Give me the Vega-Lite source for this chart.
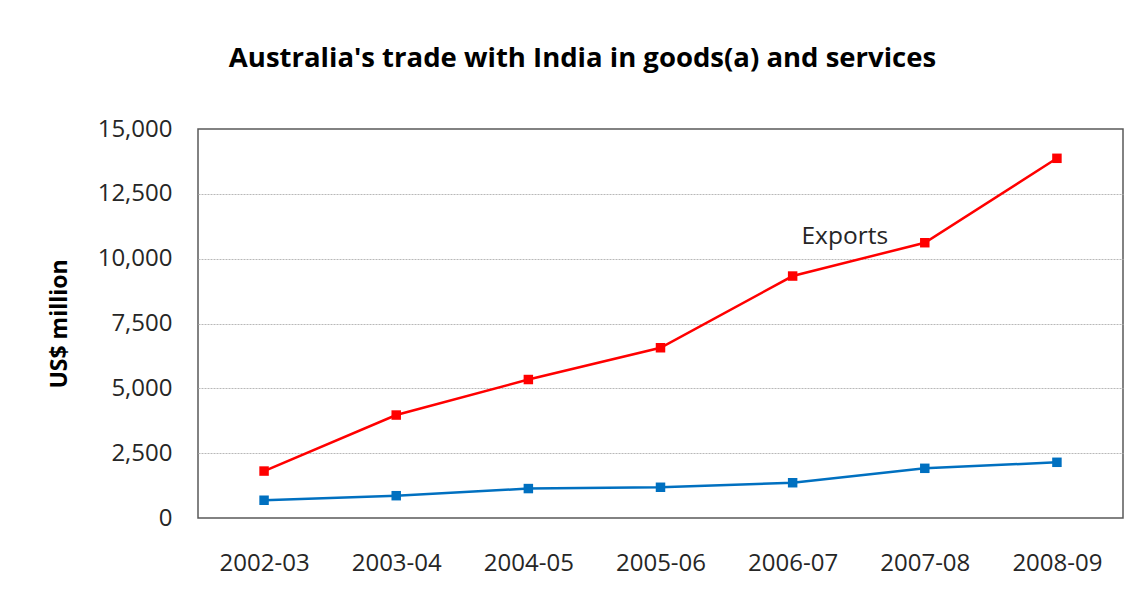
{
  "$schema": "https://vega.github.io/schema/vega-lite/v6.json",
  "autosize": {"type": "none"},
  "width": 925,
  "height": 389,
  "padding": {"left": 198, "top": 129, "right": 17, "bottom": 79},
  "background": "white",
  "title": {
    "text": "Australia's trade with India in goods(a) and services",
    "font": "Open Sans",
    "fontSize": 27.5,
    "fontWeight": "bold",
    "color": "#000000",
    "anchor": "middle",
    "dx": -78,
    "offset": 45
  },
  "config": {
    "view": {"stroke": "#595959", "strokeWidth": 1.5},
    "font": "Open Sans"
  },
  "data": {
    "values": [
      {"year": "2002-03", "series": "Exports", "value": 1810},
      {"year": "2003-04", "series": "Exports", "value": 3970},
      {"year": "2004-05", "series": "Exports", "value": 5340},
      {"year": "2005-06", "series": "Exports", "value": 6565},
      {"year": "2006-07", "series": "Exports", "value": 9330},
      {"year": "2007-08", "series": "Exports", "value": 10615, "label": "Exports"},
      {"year": "2008-09", "series": "Exports", "value": 13870},
      {"year": "2002-03", "series": "Imports", "value": 685},
      {"year": "2003-04", "series": "Imports", "value": 860},
      {"year": "2004-05", "series": "Imports", "value": 1135},
      {"year": "2005-06", "series": "Imports", "value": 1185},
      {"year": "2006-07", "series": "Imports", "value": 1360},
      {"year": "2007-08", "series": "Imports", "value": 1916},
      {"year": "2008-09", "series": "Imports", "value": 2148}
    ]
  },
  "encoding": {
    "x": {
      "field": "year",
      "type": "ordinal",
      "scale": {"type": "point", "padding": 0.5},
      "axis": {
        "title": null,
        "labelAngle": 0,
        "ticks": false,
        "domain": false,
        "labelPadding": 33,
        "labelFontSize": 24,
        "labelColor": "#262626",
        "labelFont": "Open Sans"
      }
    },
    "y": {
      "field": "value",
      "type": "quantitative",
      "scale": {"domain": [0, 15000], "nice": false},
      "axis": {
        "title": "US$ million",
        "titleFontSize": 23,
        "titleFontWeight": "bold",
        "titleColor": "#000000",
        "titlePadding": 26,
        "titleFont": "Open Sans",
        "values": [0, 2500, 5000, 7500, 10000, 12500, 15000],
        "format": ",d",
        "ticks": false,
        "domain": false,
        "labelPadding": 26,
        "labelFontSize": 24,
        "labelColor": "#262626",
        "labelFont": "Open Sans",
        "grid": true,
        "gridColor": {"condition": {"test": "datum.value === 0 || datum.value === 15000", "value": "transparent"}, "value": "#b8b8b8"},
        "gridDash": [2, 1],
        "gridWidth": 1
      }
    },
    "color": {
      "field": "series",
      "type": "nominal",
      "scale": {"domain": ["Exports", "Imports"], "range": ["#ff0000", "#0070c0"]},
      "legend": null
    }
  },
  "layer": [
    {
      "mark": {"type": "line", "strokeWidth": 2.5}
    },
    {
      "mark": {"type": "point", "shape": "square", "filled": true, "size": 90, "opacity": 1}
    },
    {
      "transform": [{"filter": "datum.label"}],
      "mark": {"type": "text", "dx": -80, "dy": -6, "fontSize": 24.5, "font": "Open Sans", "color": "#262626", "align": "center", "baseline": "middle"},
      "encoding": {
        "text": {"field": "label"},
        "color": {"value": "#262626"}
      }
    }
  ]
}
